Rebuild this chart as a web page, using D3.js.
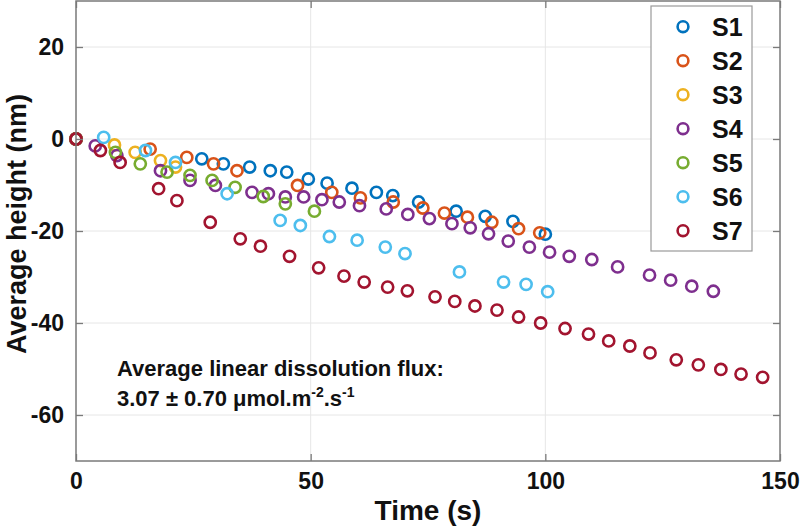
<!DOCTYPE html>
<html>
<head>
<meta charset="utf-8">
<script src="https://cdn.jsdelivr.net/npm/d3@7"></script>
<style>
  html, body { margin: 0; padding: 0; background: #fff; }
  svg { display: block; font-family: "Liberation Sans", Arial, sans-serif; }
</style>
</head>
<body>
<svg id="chart" width="800" height="530"></svg>
<script>
// ---- data ----
const seriesNames = ["S1", "S2", "S3", "S4", "S5", "S6", "S7"];
const seriesColors = ["#0072BD", "#D95319", "#EDB120", "#7E2F8E", "#77AC30", "#4DBEEE", "#A2142F"];

const s1Time   = [0, 26.8, 31.4, 37.0, 41.4, 44.9, 49.5, 53.5, 58.8, 64.0, 67.5, 73.0, 81.0, 87.2, 93.1, 100.0];
const s1Height = [0, -4.3, -5.4, -6.1, -6.9, -7.2, -8.7, -9.6, -10.7, -11.6, -12.3, -13.7, -15.7, -16.8, -17.9, -20.7];

const s2Time   = [0, 15.8, 23.6, 29.3, 34.3, 47.2, 54.5, 60.6, 67.6, 73.9, 78.5, 83.4, 88.6, 94.3, 98.8];
const s2Height = [0, -2.2, -4.0, -5.4, -6.9, -10.1, -11.6, -12.8, -13.7, -15.0, -16.1, -17.0, -18.1, -19.5, -20.4];

const s3Time   = [0, 8.2, 12.6, 18.0, 21.2];
const s3Height = [0, -1.3, -2.9, -4.7, -6.1];

const s4Time   = [0, 4.1, 8.7, 18.0, 24.3, 29.7, 37.5, 41.0, 44.6, 48.5, 52.4, 56.1, 60.4, 66.1, 70.7, 75.3, 80.1, 84.0, 87.9, 92.1, 96.6, 100.9, 105.1, 109.9, 115.4, 122.2, 126.7, 131.2, 135.8];
const s4Height = [0, -1.5, -3.6, -6.9, -9.0, -10.1, -11.6, -11.9, -12.6, -12.6, -13.2, -13.7, -14.5, -15.2, -16.4, -17.3, -18.4, -19.3, -20.6, -22.2, -23.5, -24.6, -25.5, -26.2, -27.8, -29.6, -30.7, -32.0, -33.1];

const s5Time   = [0, 8.4, 13.7, 19.4, 24.3, 29.0, 33.9, 39.9, 44.6, 50.8];
const s5Height = [0, -2.9, -5.4, -7.2, -7.9, -9.0, -10.5, -12.5, -14.1, -15.7];

const s6Time   = [5.9, 14.8, 21.2, 32.2, 43.5, 47.8, 54.0, 59.9, 65.9, 70.1, 81.7, 91.1, 95.9, 100.5];
const s6Height = [0.35, -2.5, -5.1, -11.9, -17.7, -18.8, -21.2, -22.0, -23.5, -24.9, -28.9, -31.1, -31.6, -33.2];

const s7Time   = [0, 5.2, 9.4, 17.6, 21.5, 28.6, 35.0, 39.3, 45.5, 51.7, 57.1, 61.4, 66.4, 70.6, 76.5, 80.7, 85.0, 89.7, 94.3, 99.0, 104.2, 109.2, 113.5, 118.0, 122.3, 127.9, 132.6, 137.4, 141.7, 146.3];
const s7Height = [0, -2.5, -5.1, -10.8, -13.4, -18.1, -21.7, -23.3, -25.5, -28.0, -29.8, -31.1, -32.2, -33.0, -34.3, -35.3, -36.3, -37.2, -38.7, -40.0, -41.2, -42.4, -43.9, -45.0, -46.5, -48.0, -49.1, -50.1, -51.1, -51.8];

const xTicks = [0, 50, 100, 150];
const yTicks = [-60, -40, -20, 0, 20];
const xDomain = [0, 150];
const yDomain = [-70, 30];

const allTimes = [s1Time, s2Time, s3Time, s4Time, s5Time, s6Time, s7Time];
const allHeights = [s1Height, s2Height, s3Height, s4Height, s5Height, s6Height, s7Height];

// ---- layout ----
const svg = d3.select("#chart");
const L = 76, R = 780, T = 1, B = 461;

const x = d3.scaleLinear().domain(xDomain).range([L, R]);
const y = d3.scaleLinear().domain(yDomain).range([B, T]);
const fmt = d => String(d); // plain hyphen-minus like the reference

// grid
const grid = svg.append("g");
grid.selectAll("line.gx").data(xTicks.filter(d => d > xDomain[0] && d < xDomain[1])).enter()
  .append("line").attr("x1", d => x(d)).attr("x2", d => x(d)).attr("y1", T).attr("y2", B)
  .attr("stroke", "#e6e6e6").attr("stroke-width", 1);
grid.selectAll("line.gy").data(yTicks).enter()
  .append("line").attr("x1", L).attr("x2", R).attr("y1", d => y(d)).attr("y2", d => y(d))
  .attr("stroke", "#e6e6e6").attr("stroke-width", 1);

// data points
const series = seriesNames.map((name, i) => ({
  name, color: seriesColors[i],
  points: allTimes[i].map((t, j) => ({ t, h: allHeights[i][j] }))
}));

series.forEach(s => {
  svg.append("g").selectAll("circle").data(s.points).enter()
    .append("circle")
    .attr("cx", d => x(d.t)).attr("cy", d => y(d.h)).attr("r", 5.6)
    .attr("fill", "none").attr("stroke", s.color).attr("stroke-width", 2.6);
});

// axes (box with inward ticks)
const axisColor = "#7a7a7a";
const tickStyle = g => {
  g.select(".domain").remove();
  g.selectAll(".tick line").attr("stroke", axisColor).attr("stroke-width", 1.3);
  g.selectAll(".tick text").attr("fill", "#111").attr("font-weight", "bold")
    .attr("font-size", "23px").attr("font-family", "Liberation Sans, Arial, sans-serif");
};

svg.append("g").attr("transform", `translate(0,${B})`)
  .call(d3.axisBottom(x).tickValues(xTicks).tickSize(-7).tickPadding(12).tickFormat(fmt))
  .call(tickStyle)
  .call(g => g.selectAll(".tick text").attr("dy", "0.71em"));

svg.append("g").attr("transform", `translate(0,${T})`)
  .call(d3.axisTop(x).tickValues(xTicks).tickSize(-7).tickFormat(""))
  .call(tickStyle);

svg.append("g").attr("transform", `translate(${L},0)`)
  .call(d3.axisLeft(y).tickValues(yTicks).tickSize(-7).tickPadding(12).tickFormat(fmt))
  .call(tickStyle);

svg.append("g").attr("transform", `translate(${R},0)`)
  .call(d3.axisRight(y).tickValues(yTicks).tickSize(-7).tickFormat(""))
  .call(tickStyle);

svg.append("rect").attr("x", L).attr("y", T).attr("width", R - L).attr("height", B - T)
  .attr("fill", "none").attr("stroke", axisColor).attr("stroke-width", 1.5);

// axis labels
svg.append("text").attr("x", (L + R) / 2).attr("y", 520).attr("text-anchor", "middle")
  .attr("font-weight", "bold").attr("font-size", "28px").attr("fill", "#111")
  .text("Time (s)");

svg.append("text").attr("transform", `translate(26,${(T + B) / 2 - 7}) rotate(-90)`)
  .attr("text-anchor", "middle")
  .attr("font-weight", "bold").attr("font-size", "27px").attr("fill", "#111")
  .text("Average height (nm)");

// annotation
const ann = svg.append("g").attr("font-weight", "bold").attr("font-size", "22px").attr("fill", "#111");
ann.append("text").attr("x", 117).attr("y", 376).text("Average linear dissolution flux:");
const t2 = ann.append("text").attr("x", 117).attr("y", 406);
t2.append("tspan").text("3.07 \u00B1 0.70 \u03BCmol.m");
t2.append("tspan").attr("font-size", "14px").attr("dy", -9).text("-2");
t2.append("tspan").attr("dy", 9).text(".s");
t2.append("tspan").attr("font-size", "14px").attr("dy", -9).text("-1");

// legend
const lg = svg.append("g");
lg.append("rect").attr("x", 651).attr("y", 6).attr("width", 101).attr("height", 245)
  .attr("fill", "#fff").attr("stroke", "#9a9a9a").attr("stroke-width", 1.2);
const items = lg.selectAll("g.item").data(series).enter().append("g")
  .attr("transform", (d, i) => `translate(0,${26.7 + i * 34})`);
items.append("circle").attr("cx", 683).attr("cy", 0).attr("r", 5.4)
  .attr("fill", "none").attr("stroke", d => d.color).attr("stroke-width", 2.6);
items.append("text").attr("x", 712).attr("y", 0).attr("dy", "0.36em")
  .attr("font-weight", "bold").attr("font-size", "25px").attr("fill", "#111")
  .text(d => d.name);
</script>
</body>
</html>
